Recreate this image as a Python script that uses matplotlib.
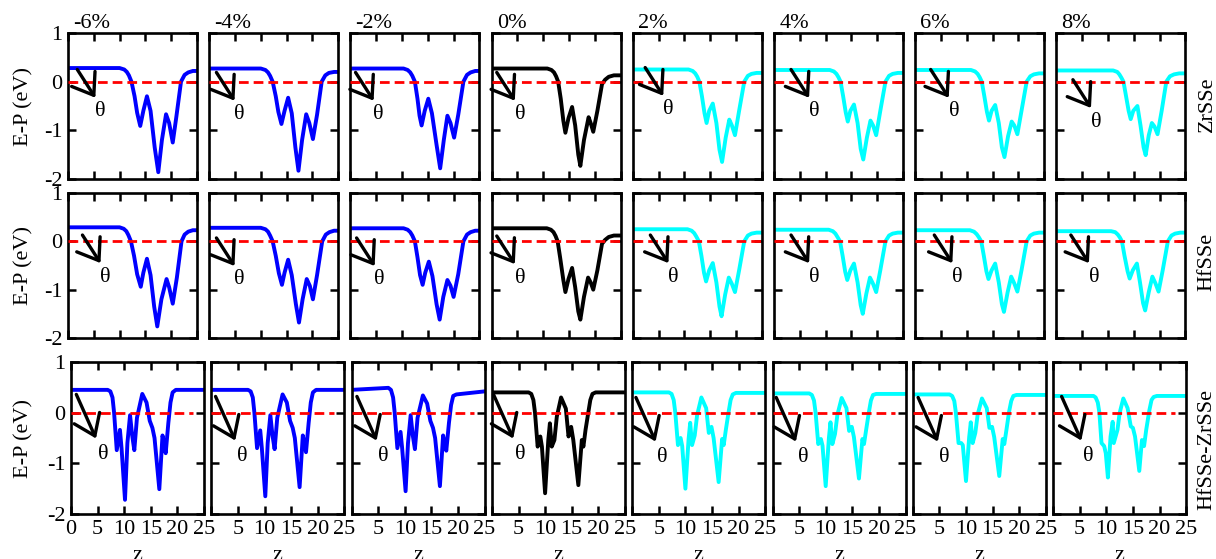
import matplotlib
matplotlib.use('Agg')
import matplotlib.pyplot as plt

plt.rcParams['font.family'] = ['Liberation Serif', 'DejaVu Serif']

# ---------------- data ----------------
STRAINS = ['-6%', '-4%', '-2%', '0%', '2%', '4%', '6%', '8%']
ROW_NAMES = ['ZrSSe', 'HfSSe', 'HfSSe-ZrSSe']
COLORS = ['#0000ff', '#0000ff', '#0000ff', '#000000', '#00ffff', '#00ffff', '#00ffff', '#00ffff']

# Row 1: ZrSSe
ZR_Z = [
    [0, 10.0, 10.9, 11.4, 11.8, 12.3, 12.9, 13.4, 14.0, 14.6, 15.3, 16.0, 16.8, 17.5, 18.2, 19.0, 19.6, 20.3, 21.0, 21.9, 22.6, 23.3, 24.2, 25],
    [0, 10.0, 10.9, 11.4, 11.8, 12.3, 12.9, 13.4, 14.0, 14.6, 15.3, 16.0, 16.7, 17.3, 18.0, 18.8, 19.4, 20.1, 20.9, 21.8, 22.5, 23.2, 24.2, 25],
    [0, 10.3, 11.1, 11.6, 12.0, 12.5, 13.0, 13.4, 13.8, 14.4, 15.1, 15.8, 16.7, 17.4, 18.1, 18.8, 19.4, 20.1, 20.9, 21.9, 22.6, 23.3, 24.2, 25],
    [0, 10.8, 11.6, 12.1, 12.5, 12.9, 13.4, 13.9, 14.3, 14.9, 15.6, 16.2, 16.8, 17.2, 17.9, 18.8, 19.2, 19.7, 20.5, 21.4, 22.0, 22.7, 23.7, 25],
    [0, 10.8, 11.6, 12.1, 12.5, 12.9, 13.4, 13.9, 14.3, 14.8, 15.5, 16.2, 16.8, 17.3, 18.0, 18.7, 19.2, 19.8, 20.6, 21.6, 22.3, 23.0, 24.0, 25],
    [0, 10.8, 11.6, 12.1, 12.5, 12.9, 13.4, 13.9, 14.3, 14.8, 15.5, 16.2, 16.8, 17.3, 18.0, 18.7, 19.2, 19.8, 20.6, 21.6, 22.3, 23.0, 24.0, 25],
    [0, 10.8, 11.6, 12.1, 12.5, 12.9, 13.4, 13.9, 14.3, 14.8, 15.5, 16.2, 16.8, 17.3, 18.0, 18.7, 19.2, 19.8, 20.6, 21.6, 22.3, 23.0, 24.0, 25],
    [0, 11.0, 11.8, 12.2, 12.6, 13.0, 13.5, 14.0, 14.4, 14.9, 15.7, 16.3, 16.9, 17.3, 17.9, 18.5, 19.0, 19.6, 20.4, 21.3, 22.0, 22.8, 23.8, 25],
]
ZR_E = [
    [0.28, 0.28, 0.25, 0.2, 0.13, 0.0, -0.3, -0.64, -0.91, -0.6, -0.30, -0.6, -1.35, -1.86, -1.2, -0.67, -0.85, -1.25, -0.72, 0.0, 0.14, 0.19, 0.22, 0.22],
    [0.27, 0.27, 0.24, 0.19, 0.12, 0.0, -0.3, -0.62, -0.87, -0.6, -0.33, -0.65, -1.35, -1.83, -1.2, -0.67, -0.85, -1.18, -0.68, 0.0, 0.13, 0.18, 0.2, 0.2],
    [0.27, 0.27, 0.24, 0.19, 0.12, 0.0, -0.35, -0.7, -0.9, -0.6, -0.35, -0.65, -1.3, -1.78, -1.2, -0.7, -0.85, -1.15, -0.68, 0.0, 0.14, 0.19, 0.22, 0.22],
    [0.27, 0.27, 0.24, 0.19, 0.11, 0.0, -0.35, -0.8, -1.05, -0.75, -0.52, -0.9, -1.5, -1.73, -1.2, -0.73, -0.85, -1.03, -0.6, -0.05, 0.04, 0.1, 0.13, 0.13],
    [0.25, 0.25, 0.22, 0.17, 0.1, 0.0, -0.3, -0.65, -0.85, -0.6, -0.45, -0.85, -1.4, -1.65, -1.15, -0.78, -0.9, -1.1, -0.6, 0.0, 0.12, 0.16, 0.18, 0.18],
    [0.24, 0.24, 0.21, 0.16, 0.09, 0.0, -0.3, -0.63, -0.82, -0.6, -0.47, -0.85, -1.38, -1.6, -1.15, -0.8, -0.9, -1.1, -0.6, 0.0, 0.12, 0.16, 0.18, 0.18],
    [0.24, 0.24, 0.21, 0.16, 0.09, 0.0, -0.3, -0.62, -0.8, -0.6, -0.48, -0.85, -1.35, -1.55, -1.12, -0.82, -0.9, -1.08, -0.6, 0.0, 0.11, 0.15, 0.17, 0.17],
    [0.23, 0.23, 0.2, 0.15, 0.08, 0.0, -0.3, -0.6, -0.77, -0.6, -0.5, -0.9, -1.35, -1.51, -1.1, -0.85, -0.92, -1.08, -0.6, 0.0, 0.11, 0.15, 0.17, 0.17],
]

# Row 2: HfSSe
HF_Z = [
    [0, 10.0, 10.8, 11.3, 11.7, 12.2, 12.8, 13.4, 14.1, 14.6, 15.3, 16.0, 16.7, 17.3, 18.1, 19.1, 19.6, 20.3, 21.1, 22.0, 22.6, 23.3, 24.2, 25],
    [0, 10.0, 10.9, 11.4, 11.8, 12.3, 12.9, 13.5, 14.1, 14.6, 15.3, 16.0, 16.8, 17.4, 18.1, 18.9, 19.5, 20.1, 20.9, 21.9, 22.6, 23.3, 24.2, 25],
    [0, 10.3, 11.1, 11.6, 12.0, 12.5, 13.0, 13.5, 14.0, 14.5, 15.2, 15.9, 16.7, 17.3, 18.0, 18.8, 19.4, 20.0, 20.9, 21.9, 22.6, 23.3, 24.2, 25],
    [0, 10.7, 11.5, 12.0, 12.4, 12.8, 13.3, 13.9, 14.3, 14.9, 15.6, 16.2, 16.8, 17.2, 17.9, 18.7, 19.2, 19.7, 20.5, 21.4, 22.0, 22.7, 23.7, 25],
    [0, 10.6, 11.4, 11.9, 12.3, 12.8, 13.3, 13.8, 14.2, 14.8, 15.5, 16.2, 16.8, 17.2, 17.9, 18.6, 19.2, 19.8, 20.6, 21.6, 22.3, 23.0, 24.0, 25],
    [0, 10.6, 11.4, 11.9, 12.3, 12.8, 13.3, 13.8, 14.2, 14.8, 15.5, 16.2, 16.8, 17.2, 17.9, 18.6, 19.2, 19.8, 20.6, 21.6, 22.3, 23.0, 24.0, 25],
    [0, 10.6, 11.4, 11.9, 12.3, 12.8, 13.3, 13.8, 14.2, 14.8, 15.5, 16.2, 16.8, 17.2, 17.9, 18.6, 19.2, 19.8, 20.6, 21.6, 22.3, 23.0, 24.0, 25],
    [0, 10.6, 11.4, 11.9, 12.3, 12.7, 13.2, 13.8, 14.2, 14.8, 15.6, 16.2, 16.8, 17.2, 17.9, 18.6, 19.2, 19.8, 20.6, 21.6, 22.3, 23.0, 24.0, 25],
]
HF_E = [
    [0.29, 0.29, 0.26, 0.21, 0.13, 0.0, -0.3, -0.68, -0.94, -0.65, -0.36, -0.7, -1.35, -1.76, -1.2, -0.78, -0.95, -1.29, -0.75, 0.0, 0.14, 0.2, 0.23, 0.23],
    [0.28, 0.28, 0.25, 0.2, 0.12, 0.0, -0.3, -0.66, -0.9, -0.65, -0.38, -0.7, -1.3, -1.68, -1.2, -0.78, -0.92, -1.2, -0.7, 0.0, 0.14, 0.19, 0.22, 0.22],
    [0.27, 0.27, 0.24, 0.19, 0.12, 0.0, -0.33, -0.7, -0.9, -0.65, -0.42, -0.72, -1.3, -1.62, -1.15, -0.8, -0.92, -1.15, -0.68, 0.0, 0.14, 0.19, 0.22, 0.22],
    [0.27, 0.27, 0.24, 0.19, 0.11, 0.0, -0.35, -0.8, -1.05, -0.78, -0.55, -0.95, -1.45, -1.62, -1.15, -0.75, -0.85, -1.0, -0.6, -0.05, 0.03, 0.09, 0.12, 0.12],
    [0.25, 0.25, 0.22, 0.17, 0.1, 0.0, -0.3, -0.65, -0.83, -0.6, -0.45, -0.85, -1.35, -1.55, -1.1, -0.75, -0.88, -1.05, -0.6, 0.0, 0.12, 0.16, 0.18, 0.18],
    [0.24, 0.24, 0.21, 0.16, 0.09, 0.0, -0.3, -0.63, -0.8, -0.6, -0.46, -0.85, -1.32, -1.5, -1.08, -0.75, -0.88, -1.05, -0.6, 0.0, 0.12, 0.16, 0.18, 0.18],
    [0.23, 0.23, 0.2, 0.15, 0.09, 0.0, -0.3, -0.62, -0.78, -0.6, -0.46, -0.85, -1.3, -1.46, -1.06, -0.73, -0.87, -1.04, -0.6, 0.0, 0.12, 0.16, 0.18, 0.18],
    [0.21, 0.21, 0.19, 0.14, 0.08, 0.0, -0.3, -0.62, -0.77, -0.6, -0.46, -0.85, -1.28, -1.43, -1.05, -0.73, -0.87, -1.04, -0.6, 0.0, 0.12, 0.16, 0.18, 0.18],
]

# Row 3: HfSSe-ZrSSe heterostructure
HZ_Z = [
    [0, 6.9, 7.4, 7.8, 8.1, 8.6, 9.2, 9.5, 10.15, 10.6, 11.1, 11.5, 11.9, 12.4, 13.4, 14.2, 14.8, 15.3, 15.7, 16.6, 17.2, 17.5, 17.8, 18.3, 18.7, 19.1, 19.7, 25],
    [0, 6.9, 7.4, 7.8, 8.1, 8.6, 9.2, 9.5, 10.15, 10.6, 11.1, 11.5, 11.9, 12.4, 13.4, 14.2, 14.8, 15.3, 15.7, 16.6, 17.2, 17.5, 17.8, 18.3, 18.7, 19.1, 19.7, 25],
    [0, 6.9, 7.4, 7.8, 8.1, 8.6, 9.2, 9.5, 10.15, 10.6, 11.1, 11.5, 11.9, 12.4, 13.4, 14.2, 14.8, 15.3, 15.7, 16.6, 17.2, 17.5, 17.8, 18.3, 18.7, 19.1, 19.7, 25],
    [0, 6.9, 7.4, 7.8, 8.1, 8.6, 9.1, 9.4, 10.0, 10.6, 10.9, 11.25, 11.75, 12.2, 13.0, 13.9, 14.4, 14.9, 15.3, 16.25, 16.9, 17.2, 17.6, 18.1, 18.5, 18.9, 19.5, 25],
    [0, 6.9, 7.4, 7.8, 8.1, 8.6, 9.1, 9.4, 10.0, 10.6, 10.9, 11.25, 11.75, 12.2, 13.0, 13.9, 14.4, 14.9, 15.3, 16.25, 16.9, 17.2, 17.6, 18.1, 18.5, 18.9, 19.5, 25],
    [0, 6.9, 7.4, 7.8, 8.1, 8.6, 9.1, 9.4, 10.0, 10.6, 10.9, 11.25, 11.75, 12.2, 13.0, 13.9, 14.4, 14.9, 15.3, 16.25, 16.9, 17.2, 17.6, 18.1, 18.5, 18.9, 19.5, 25],
    [0, 6.9, 7.4, 7.8, 8.1, 8.6, 9.1, 9.4, 10.0, 10.6, 10.9, 11.25, 11.75, 12.2, 13.0, 13.9, 14.4, 14.9, 15.3, 16.25, 16.9, 17.2, 17.6, 18.1, 18.5, 18.9, 19.5, 25],
    [0, 7.6, 8.0, 8.4, 8.7, 9.1, 9.6, 9.9, 10.3, 10.8, 11.2, 11.4, 12.1, 12.5, 13.2, 14.0, 14.6, 15.0, 15.4, 16.2, 16.7, 17.1, 17.5, 18.1, 18.5, 18.9, 19.5, 25],
]
HZ_E = [
    [0.45, 0.45, 0.42, 0.3, 0.0, -0.74, -0.34, -0.7, -1.72, -0.6, -0.05, -0.45, -0.74, -0.1, 0.37, 0.2, -0.16, -0.3, -0.5, -1.51, -0.45, -0.6, -0.8, -0.2, 0.2, 0.4, 0.45, 0.45],
    [0.45, 0.45, 0.42, 0.3, 0.0, -0.7, -0.35, -0.7, -1.65, -0.6, -0.05, -0.45, -0.72, -0.1, 0.36, 0.2, -0.16, -0.3, -0.5, -1.47, -0.45, -0.6, -0.78, -0.2, 0.2, 0.4, 0.45, 0.45],
    [0.45, 0.49, 0.45, 0.3, 0.0, -0.7, -0.38, -0.7, -1.55, -0.6, -0.05, -0.45, -0.72, -0.1, 0.34, 0.18, -0.16, -0.3, -0.5, -1.45, -0.45, -0.6, -0.75, -0.2, 0.15, 0.33, 0.36, 0.42],
    [0.40, 0.40, 0.37, 0.25, 0.0, -0.67, -0.47, -0.67, -1.59, -0.54, -0.21, -0.67, -0.54, -0.08, 0.30, 0.08, -0.47, -0.28, -0.54, -1.43, -0.54, -0.67, -0.34, -0.01, 0.25, 0.37, 0.40, 0.40],
    [0.40, 0.40, 0.37, 0.25, 0.0, -0.64, -0.5, -0.66, -1.5, -0.52, -0.2, -0.64, -0.45, -0.05, 0.3, 0.09, -0.4, -0.28, -0.5, -1.37, -0.52, -0.64, -0.34, 0.0, 0.25, 0.36, 0.39, 0.39],
    [0.38, 0.38, 0.35, 0.24, 0.0, -0.62, -0.52, -0.65, -1.45, -0.5, -0.19, -0.62, -0.42, -0.04, 0.29, 0.09, -0.36, -0.28, -0.48, -1.3, -0.52, -0.62, -0.34, 0.0, 0.24, 0.35, 0.37, 0.37],
    [0.36, 0.36, 0.33, 0.23, 0.0, -0.6, -0.6, -0.64, -1.35, -0.48, -0.19, -0.6, -0.4, -0.03, 0.28, 0.09, -0.3, -0.28, -0.48, -1.25, -0.52, -0.62, -0.34, 0.02, 0.23, 0.33, 0.35, 0.35],
    [0.33, 0.33, 0.30, 0.2, 0.0, -0.6, -0.66, -0.8, -1.28, -0.47, -0.18, -0.6, -0.34, -0.01, 0.28, 0.09, -0.27, -0.3, -0.47, -1.15, -0.54, -0.66, -0.34, 0.05, 0.25, 0.31, 0.33, 0.33],
]

# theta label positions (z, E) per row / column
THETA_X = [
    [6.3, 5.9, 5.5, 5.5, 6.9, 7.8, 7.5, 7.7],
    [7.3, 5.9, 5.7, 5.5, 7.9, 7.8, 8.2, 7.3],
    [6.0, 5.8, 6.0, 5.3, 5.7, 5.7, 6.0, 6.6],
]
THETA_Y = [
    [-0.62, -0.68, -0.68, -0.68, -0.58, -0.62, -0.62, -0.83],
    [-0.74, -0.8, -0.8, -0.76, -0.74, -0.74, -0.74, -0.74],
    [-0.83, -0.87, -0.87, -0.83, -0.89, -0.89, -0.89, -0.87],
]

XTICKS = [0, 5, 10, 15, 20, 25]
YTICKS = [-2, -1, 0, 1]

# ---------------- layout ----------------
W, H = 1216, 559
fig = plt.figure(figsize=(W / 100, H / 100), dpi=100)

ROW_PIX = [(33, 179), (193, 338), (362, 514)]
ROW_Z = [ZR_Z, HF_Z, HZ_Z]
ROW_E = [ZR_E, HF_E, HZ_E]
# arrow head offset from theta, arrow tail offset from head (data units)
HEAD_OFF = [(-1.0, 0.29), (-1.0, 0.29), (-1.3, 0.32)]
TAIL_OFF = [(-3.5, 0.58), (-3.5, 0.58), (-3.7, 0.87)]
FS = 16

for r in range(3):
    top, bot = ROW_PIX[r]
    for c in range(8):
        if r < 2:
            left, width = 68 + c * 141.2, 129
        else:
            left, width = 71 + c * 140.3, 133
        ax = fig.add_axes([left / W, 1 - bot / H, width / W, (bot - top) / H])
        ax.plot(ROW_Z[r][c], ROW_E[r][c], color=COLORS[c], lw=2.8,
                solid_joinstyle='round', zorder=2)
        x_end = 25 if r < 2 else 23
        ax.plot([0, x_end], [0, 0], color='#ff0000', lw=2.0, dashes=(3.5, 1.8), zorder=3)
        ax.set_xlim(0, 25)
        ax.set_ylim(-2, 1)
        ax.set_xticks(XTICKS)
        ax.set_yticks(YTICKS)
        ax.tick_params(direction='in', length=6, width=1.8, top=True, right=True,
                       labelsize=FS, pad=4)
        for s in ax.spines.values():
            s.set_linewidth(1.9)

        # arrow + theta
        tx, ty = THETA_X[r][c], THETA_Y[r][c]
        hx, hy = tx + HEAD_OFF[r][0], ty + HEAD_OFF[r][1]
        sx, sy = hx + TAIL_OFF[r][0], hy + TAIL_OFF[r][1]
        ax.annotate('', xy=(hx, hy), xytext=(sx, sy),
                    arrowprops=dict(arrowstyle='->,head_length=0.7,head_width=0.5',
                                    lw=2.4, color='black', mutation_scale=20,
                                    shrinkA=0, shrinkB=0), zorder=4)
        ax.text(tx, ty, 'θ', fontsize=FS, ha='center', va='center', zorder=5)

        if c == 0:
            ax.set_yticklabels([str(v) for v in YTICKS])
            fig.text(24 / W, 1 - (top + bot) / 2 / H, 'E-P (eV)', rotation=90,
                     ha='center', va='center', fontsize=FS)
        else:
            ax.set_yticklabels([])
        if r == 2:
            if c == 0:
                ax.set_xticklabels([str(v) for v in XTICKS])
            else:
                ax.set_xticklabels([''] + [str(v) for v in XTICKS[1:]])
            ax.set_xlabel('z', fontsize=FS, labelpad=5)
        else:
            ax.set_xticklabels([])
        if r == 0:
            ax.text(0.04, 1.035, STRAINS[c], transform=ax.transAxes, fontsize=FS,
                    ha='left', va='baseline')

ROW_LABEL_Y = [104, 262, 450]
for r in range(3):
    fig.text(1207 / W, 1 - ROW_LABEL_Y[r] / H, ROW_NAMES[r], rotation=90,
             ha='center', va='center', fontsize=FS)

fig.savefig('out.png', dpi=100)
